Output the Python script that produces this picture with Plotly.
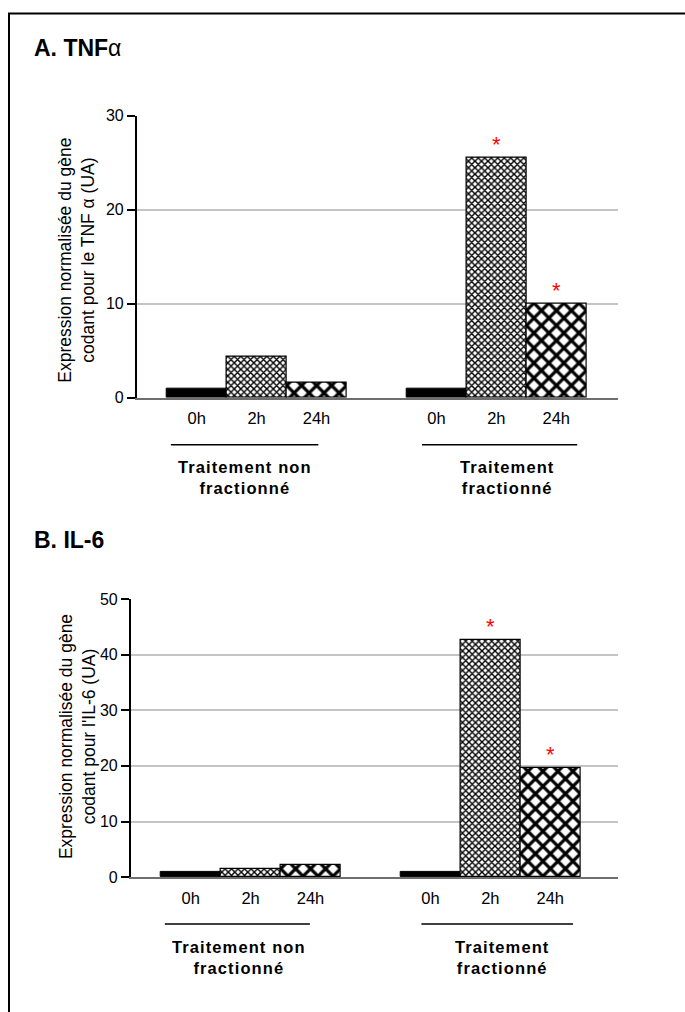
import plotly.graph_objects as go

W, H = 685, 1012

# ---------------- data ----------------
times = ["0h", "2h", "24h"]
groups = ["Traitement non<br>fractionné", "Traitement<br>fractionné"]

tnf_non_fract = [1.0, 4.34, 1.65]
tnf_fract = [1.0, 25.5, 10.0]
tnf_stars_non_fract = ["", "", ""]
tnf_stars_fract = ["", "*", "*"]

il6_non_fract = [1.0, 1.54, 2.12]
il6_fract = [1.0, 42.7, 19.7]
il6_stars_non_fract = ["", "", ""]
il6_stars_fract = ["", "*", "*"]

tnf_ticks = [0, 10, 20, 30]
il6_ticks = [0, 10, 20, 30, 40, 50]

FONT = "Liberation Sans, Arial, sans-serif"

fig = go.Figure()
annotations = []


def bar_marker(ti):
    if ti == 0:
        return dict(color="black", line=dict(color="black", width=1))
    size = 4.6 if ti == 1 else 10.6
    return dict(
        color="white",
        line=dict(color="black", width=1.2),
        pattern=dict(shape="x", size=size, solidity=0.52, fgcolor="black",
                     bgcolor="white", fgopacity=1, fillmode="replace"),
    )


def add_panel(nf_vals, f_vals, nf_stars, f_stars, xa, ya):
    for ti, t in enumerate(times):
        xs = [gi * 4 + ti + 1 for gi in range(len(groups))]
        vals = [nf_vals[ti], f_vals[ti]]
        stars = [nf_stars[ti], f_stars[ti]]
        fig.add_trace(go.Bar(
            x=xs, y=vals, width=1.0,
            marker=bar_marker(ti), xaxis=xa, yaxis=ya, showlegend=False,
        ))
        for x, v, s in zip(xs, vals, stars):
            if s:
                annotations.append(dict(
                    text=s, x=x, y=v, xref=xa, yref=ya, xanchor="center", yanchor="bottom",
                    yshift=-1.5, showarrow=False,
                    font=dict(color="#ff0000", size=22, family=FONT)))


add_panel(tnf_non_fract, tnf_fract, tnf_stars_non_fract, tnf_stars_fract, "x", "y")
add_panel(il6_non_fract, il6_fract, il6_stars_non_fract, il6_stars_fract, "x2", "y2")

tickpos = [gi * 4 + ti + 1 for gi in range(len(groups)) for ti in range(len(times))]
ticktxt = [t for _ in groups for t in times]


def px_x(p):
    return p / W


def px_y(p):
    return 1 - p / H


xcommon = dict(tickvals=tickpos, ticktext=ticktxt, showgrid=False, zeroline=False,
               showline=True, linecolor="#6e6e6e", linewidth=1.5, ticks="",
               ticklabelstandoff=5,
               tickfont=dict(size=16.5, color="black", family=FONT), fixedrange=True)
ycommon = dict(showgrid=True, gridcolor="#c4c4c4", gridwidth=1.5, zeroline=False,
               showline=True, linecolor="black", linewidth=1.5, ticks="outside",
               ticklen=8, tickwidth=1.5, tickcolor="black",
               tickfont=dict(size=16, color="black", family=FONT), fixedrange=True)

fig.update_layout(
    width=W, height=H,
    margin=dict(l=0, r=0, t=0, b=0),
    paper_bgcolor="white", plot_bgcolor="white",
    font=dict(family=FONT, color="black"),
    bargap=0,
    xaxis=dict(domain=[px_x(136.7), px_x(618)], range=[0, 8.03], anchor="y", **xcommon),
    yaxis=dict(domain=[px_y(396.5), px_y(109.5)], range=[0, 30], tickvals=tnf_ticks,
               anchor="x", **ycommon),
    xaxis2=dict(domain=[px_x(130.7), px_x(618)], range=[0, 8.13], anchor="y2", **xcommon),
    yaxis2=dict(domain=[px_y(884), px_y(601)], range=[0, 50], tickvals=il6_ticks,
                anchor="x2", **ycommon),
)

# outer frame
fig.add_shape(type="rect", xref="paper", yref="paper",
              x0=px_x(9), x1=px_x(720), y0=px_y(1040), y1=px_y(5.5),
              line=dict(color="black", width=2))

# panel titles
annotations.append(dict(text="<b>A. TNF</b>α", x=px_x(32), y=px_y(41), xref="paper", yref="paper",
                        xanchor="left", yanchor="middle", showarrow=False,
                        font=dict(size=23, family=FONT)))
annotations.append(dict(text="<b>B. IL-6</b>", x=px_x(32), y=px_y(541.5), xref="paper", yref="paper",
                        xanchor="left", yanchor="middle", showarrow=False,
                        font=dict(size=23, family=FONT)))
# y axis titles
annotations.append(dict(text="Expression normalisée du gène<br>codant pour le TNF α (UA)",
                        x=px_x(77), y=px_y(257), xref="paper", yref="paper", textangle=-90,
                        xanchor="center", yanchor="middle", showarrow=False,
                        font=dict(size=17.5, family=FONT)))
annotations.append(dict(text="Expression normalisée du gène<br>codant pour l'IL-6 (UA)",
                        x=px_x(77.5), y=px_y(741), xref="paper", yref="paper", textangle=-90,
                        xanchor="center", yanchor="middle", showarrow=False,
                        font=dict(size=17.5, family=FONT)))

# group brackets and labels
panels = [
    ("x", [(0.57, 3.03), (4.76, 7.35)], 444.3, [1.8, 6.17], 477.5),
    ("x2", [(0.57, 2.99), (4.85, 7.38)], 931.7, [1.8, 6.2], 965.5),
]
for xa, segs, ly, cx, ty in panels:
    for (a, b) in segs:
        fig.add_shape(type="line", xref=xa, yref="paper", x0=a, x1=b,
                      y0=px_y(ly), y1=px_y(ly), line=dict(color="black", width=1.5))
    for gi, g in enumerate(groups):
        annotations.append(dict(
            text="<b><span style='letter-spacing:1.1px'>" + g.replace("<br>", "</span><br><span style='letter-spacing:1.1px'>") + "</span></b>",
            x=cx[gi], y=px_y(ty), xref=xa, yref="paper", xanchor="center", yanchor="middle",
            showarrow=False, align="center", font=dict(size=16.5, family=FONT)))

fig.update_layout(annotations=annotations)

page_css = (
    "document.documentElement.style.margin='0';"
    "document.body.style.margin='0';"
    "document.body.style.overflow='hidden';"
)

fig.write_html("out.html", config={"displayModeBar": False}, post_script=page_css)
